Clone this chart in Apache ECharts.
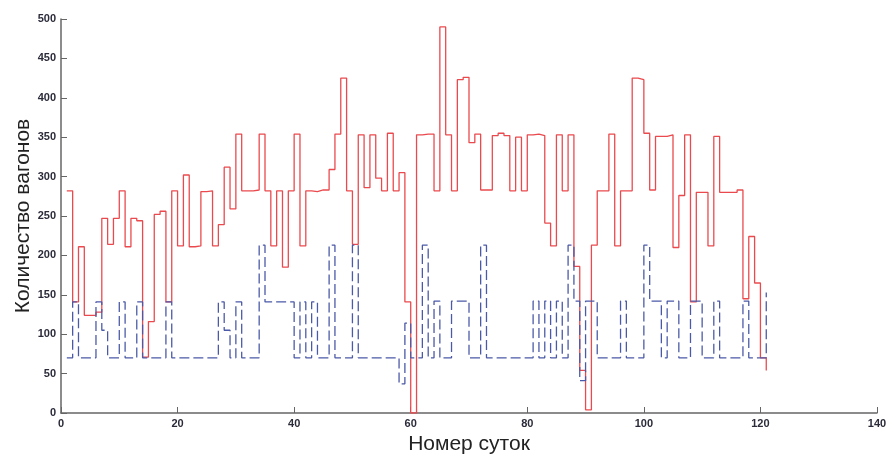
<!DOCTYPE html>
<html>
<head>
<meta charset="utf-8">
<script src="https://cdn.jsdelivr.net/npm/echarts@6/dist/echarts.min.js"></script>
<style>
html,body{margin:0;padding:0;background:#fff;}
#chart{width:895px;height:457px;}
</style>
</head>
<body>
<div id="chart"></div>
<script>
// Day numbers (x): 1..121
const firstDay = 1;
// Red series (solid) – wagons per day
const redValues = [
282,141,211,124,124,128,247,214,247,282,
211,247,244,71,116,252,256,141,282,212,
302,211,212,281,282,212,239,312,259,354,
282,282,283,354,282,212,282,185,282,354,
212,282,281,283,283,309,354,425,282,214,
353,286,353,298,282,355,282,305,141,0,
353,354,354,282,490,353,282,423,426,343,
354,283,283,352,355,352,282,350,282,353,
354,352,241,212,353,282,353,186,54,4,
213,282,282,354,212,282,282,425,423,355,
283,351,351,353,210,276,353,141,280,280,
212,351,280,280,280,283,145,224,165,70,
54
];
// Blue series (dashed)
const blueValues = [
70,141,70,70,70,141,105,70,70,141,
70,70,141,70,70,70,70,141,70,70,
70,70,70,70,70,70,141,105,70,141,
70,70,70,213,141,141,141,141,141,70,
141,70,141,70,70,213,70,70,70,213,
70,70,70,70,70,70,70,37,114,70,
70,213,70,142,70,70,142,142,142,70,
70,213,70,70,70,70,70,70,70,70,
142,70,142,70,142,70,213,142,41,142,
142,70,70,70,70,142,70,70,70,213,
142,142,70,142,142,70,70,142,142,70,
70,142,70,70,70,70,142,70,70,70,
153
];
const xTicks = [0,20,40,60,80,100,120,140];
const yTicks = [0,50,100,150,200,250,300,350,400,450,500];
const xTitle = 'Номер суток';
const yTitle = 'Количество вагонов';

const toPairs = vals => vals.map((v, i) => [firstDay + i, v]);

const chart = echarts.init(document.getElementById('chart'), null, {renderer: 'canvas'});
const fam = '"Liberation Sans Narrow","Liberation Sans",Arial,sans-serif';
const tickFont = {fontFamily: fam, fontWeight: 'bold', fontSize: 11, color: '#2b2b3a'};
const axisLine = {show: true, onZero: false, lineStyle: {color: '#666', width: 1.5}};
chart.setOption({
  animation: false,
  backgroundColor: '#fff',
  grid: {left: 61, right: 18, top: 19, bottom: 44, containLabel: false, outerBoundsMode: 'none'},
  xAxis: {
    type: 'value', min: xTicks[0], max: xTicks[xTicks.length - 1], interval: 20,
    name: xTitle, nameLocation: 'middle', nameGap: 21, nameMoveOverlap: false,
    nameTextStyle: {fontFamily: fam, fontSize: 21, color: '#222', verticalAlign: 'top'},
    axisLine: axisLine,
    axisTick: {show: true, inside: true, length: 6, lineStyle: {color: '#666'}},
    axisLabel: Object.assign({margin: 5}, tickFont),
    splitLine: {show: false}
  },
  yAxis: {
    type: 'value', min: yTicks[0], max: yTicks[yTicks.length - 1], interval: 50,
    name: yTitle, nameLocation: 'middle', nameGap: 27, nameMoveOverlap: false,
    nameTextStyle: {fontFamily: fam, fontSize: 21, color: '#222', verticalAlign: 'bottom'},
    axisLine: axisLine,
    axisTick: {show: true, inside: true, length: 6, lineStyle: {color: '#666'}},
    axisLabel: Object.assign({margin: 5}, tickFont),
    splitLine: {show: false}
  },
  series: [
    {
      type: 'line', step: 'end', showSymbol: false, symbol: 'none',
      data: toPairs(redValues),
      lineStyle: {color: '#ea4a4e', width: 1.3}
    },
    {
      type: 'line', step: 'end', showSymbol: false, symbol: 'none',
      data: toPairs(blueValues),
      lineStyle: {color: '#4b5aa8', width: 1.3, type: [10, 4]}
    }
  ]
});
</script>
</body>
</html>
